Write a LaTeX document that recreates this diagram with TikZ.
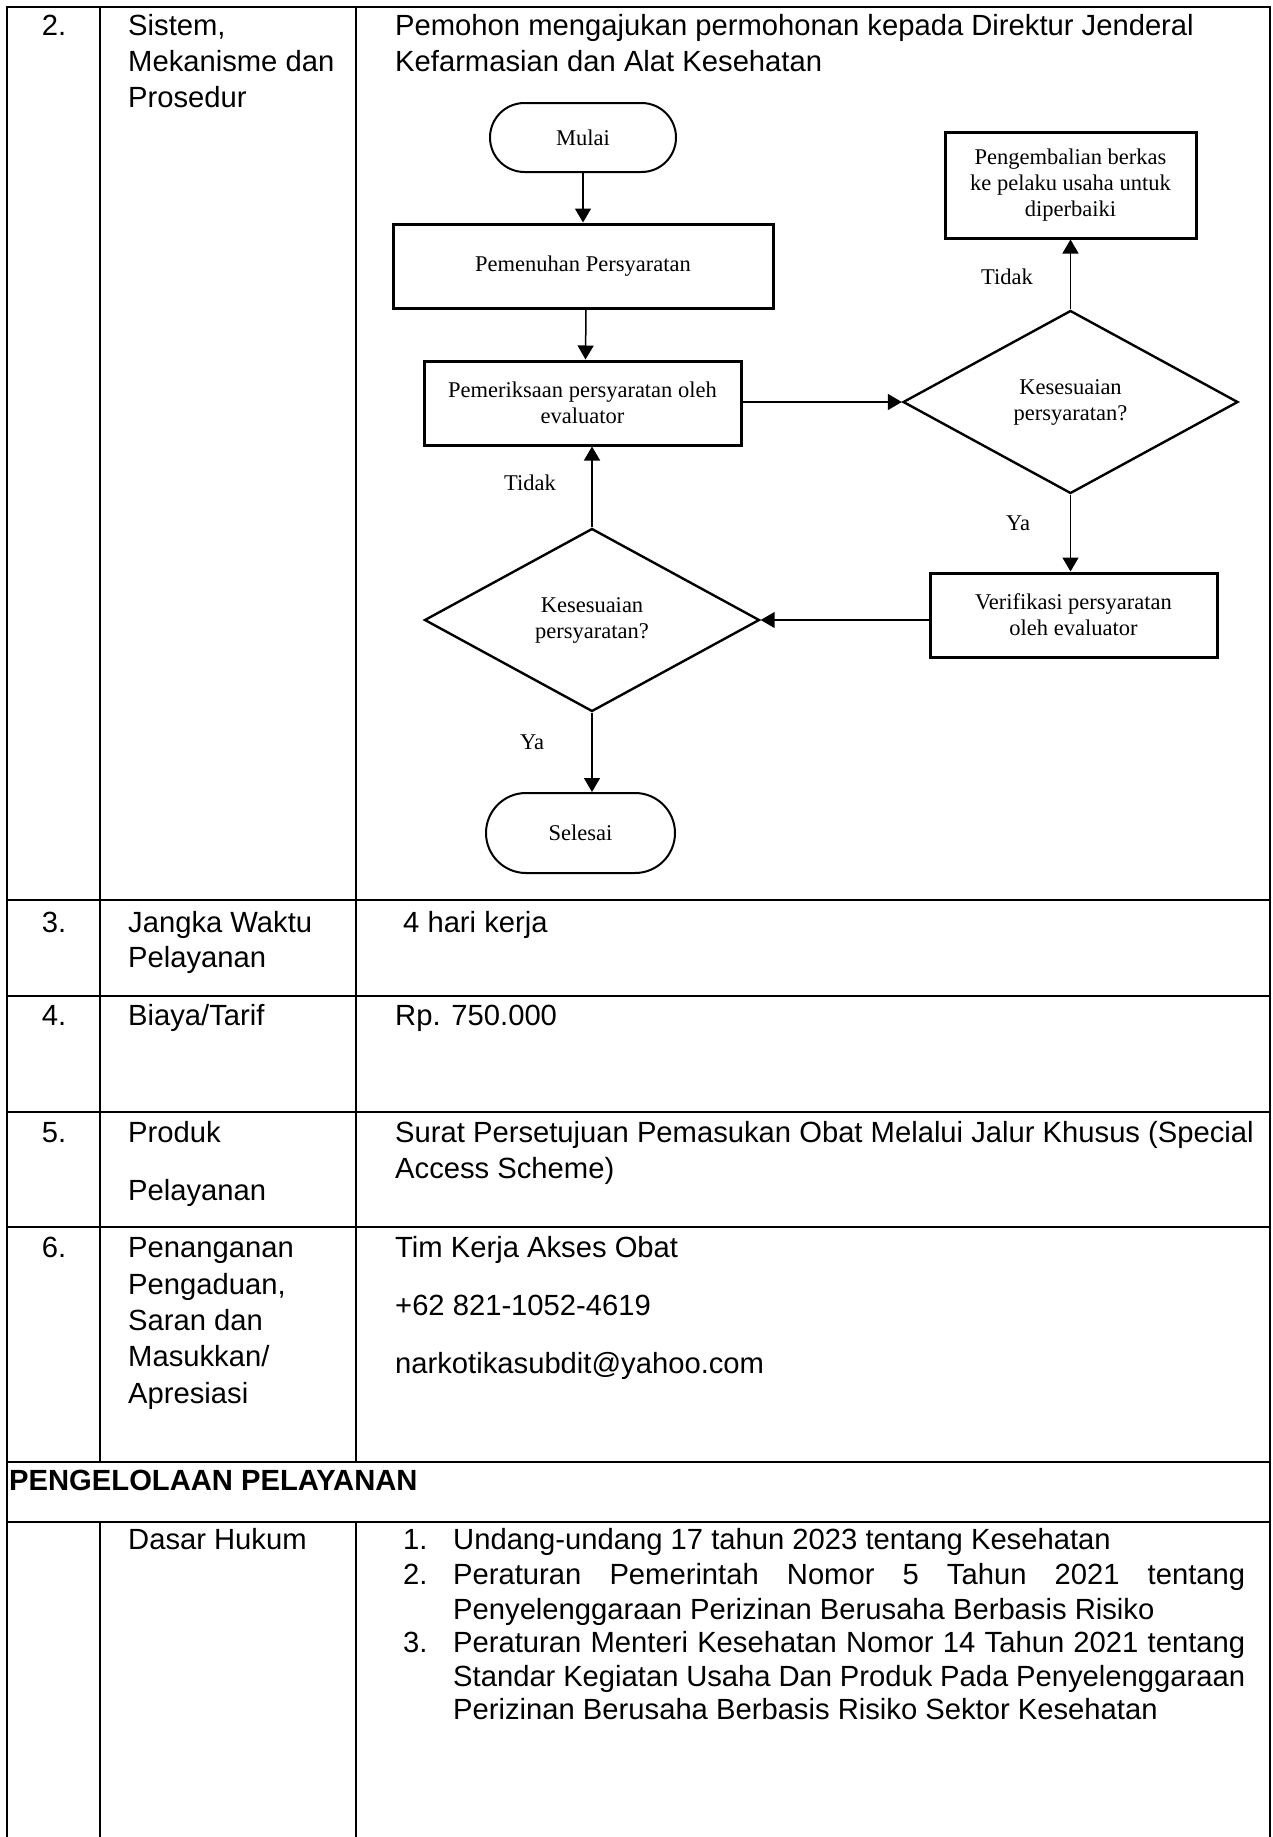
\documentclass[tikz,border=0pt]{standalone}
\usepackage{fontspec}
\setmainfont{Liberation Sans}
\newfontfamily\flowserif{Liberation Serif}
\usetikzlibrary{arrows.meta,shapes.geometric}

\newcommand\tabfont{\fontsize{29.2}{35.5}\selectfont}
\newcommand\chartfont{\flowserif\fontsize{22.5}{26}\selectfont}

\tikzset{
  rule/.style={line width=2.2pt, line cap=rect},
  cell/.style={anchor=base west, inner sep=0pt, font=\tabfont},
  num/.style={anchor=base, inner sep=0pt, font=\tabfont},
  procbox/.style={draw, line width=3pt, rectangle, inner sep=0pt, align=center, font=\chartfont},
  termbox/.style={draw, line width=2pt, rectangle, inner sep=0pt, font=\chartfont},
  decision/.style={draw, line width=2.4pt, diamond, inner sep=0pt, align=center, font=\chartfont,
                   minimum width=335pt, minimum height=183pt},
  flow/.style={line width=1.5pt, -{Triangle[length=14pt,width=16pt]}},
  branch/.style={inner sep=0pt, font=\chartfont},
}

\begin{document}
\begin{tikzpicture}[x=1pt,y=-1pt]
\useasboundingbox (0,0) rectangle (1272,1837);

% ---- table rules ----
\draw[rule] (7,7) -- (1270,7);
\draw[rule] (7,7) -- (7,1837);
\draw[rule] (1270,7) -- (1270,1837);
\draw[rule] (100,7) -- (100,1462);
\draw[rule] (356,7) -- (356,1462);
\draw[rule] (100,1522) -- (100,1837);
\draw[rule] (356,1522) -- (356,1837);
\foreach \y in {900,996,1112,1227,1462,1522} \draw[rule] (7,\y) -- (1270,\y);

% ---- row 2 ----
\node[num]  (n2)   at (54,35)   {2.};
\node[cell] (s2a)  at (128,35)  {Sistem,};
\node[cell] (s2b)  at (128,71)  {Mekanisme dan};
\node[cell] (s2c)  at (128,107) {Prosedur};
\node[cell] (d2a)  at (395,35)  {Pemohon mengajukan permohonan kepada Direktur Jenderal};
\node[cell] (d2b)  at (395,71)  {Kefarmasian dan Alat Kesehatan};

% ---- row 3 ----
\node[num]  (n3)   at (54,932)  {3.};
\node[cell] (s3a)  at (128,932) {Jangka Waktu};
\node[cell] (s3b)  at (128,967) {Pelayanan};
\node[cell] (d3)   at (403,932) {4 hari kerja};

% ---- row 4 ----
\node[num]  (n4)   at (54,1025)  {4.};
\node[cell] (s4)   at (128,1025) {Biaya/Tarif};
\node[cell] (d4)   at (395,1025) {Rp. 750.000};

% ---- row 5 ----
\node[num]  (n5)   at (54,1142)  {5.};
\node[cell] (s5a)  at (128,1142) {Produk};
\node[cell] (s5b)  at (128,1200) {Pelayanan};
\node[cell] (d5a)  at (395,1142) {Surat Persetujuan Pemasukan Obat Melalui Jalur Khusus (Special};
\node[cell] (d5b)  at (395,1178) {Access Scheme)};

% ---- row 6 ----
\node[num]  (n6)   at (54,1257)  {6.};
\node[cell] (s6a)  at (128,1257) {Penanganan};
\node[cell] (s6b)  at (128,1294) {Pengaduan,};
\node[cell] (s6c)  at (128,1330) {Saran dan};
\node[cell] (s6d)  at (128,1366) {Masukkan/};
\node[cell] (s6e)  at (128,1403) {Apresiasi};
\node[cell] (d6a)  at (395,1257) {Tim Kerja Akses Obat};
\node[cell] (d6b)  at (395,1315) {+62 821-1052-4619};
\node[cell] (d6c)  at (395,1373) {narkotikasubdit@yahoo.com};

% ---- section heading ----
\node[cell, font=\tabfont\bfseries] (sect) at (9,1490) {PENGELOLAAN PELAYANAN};

% ---- legal basis ----
\node[cell] (sdh)  at (128,1549) {Dasar Hukum};
\node[cell] (l1n)  at (403,1549) {1.};
\node[cell] (l2n)  at (403,1584) {2.};
\node[cell] (l3n)  at (403,1652) {3.};
\node[cell] (l1a)  at (453,1549) {Undang-undang 17 tahun 2023 tentang Kesehatan};
\node[cell] (l2a)  at (453,1584) {\makebox[792pt][s]{Peraturan Pemerintah Nomor 5 Tahun 2021 tentang}};
\node[cell] (l2b)  at (453,1619) {Penyelenggaraan Perizinan Berusaha Berbasis Risiko};
\node[cell] (l3a)  at (453,1652) {\makebox[792pt][s]{Peraturan Menteri Kesehatan Nomor 14 Tahun 2021 tentang}};
\node[cell] (l3b)  at (453,1686) {\makebox[792pt][s]{Standar Kegiatan Usaha Dan Produk Pada Penyelenggaraan}};
\node[cell] (l3c)  at (453,1719) {Perizinan Berusaha Berbasis Risiko Sektor Kesehatan};

% ---- flowchart ----
\node[termbox, rounded corners=34.5pt, minimum width=186pt, minimum height=69pt] (mulai) at (583,137.5) {Mulai};
\node[procbox, minimum width=380pt, minimum height=84pt] (penuhi) at (583,266) {Pemenuhan Persyaratan};
\node[procbox, minimum width=317pt, minimum height=84pt] (periksa) at (582.5,403) {Pemeriksaan persyaratan oleh\\evaluator};
\node[decision] (cek1) at (1070.5,402) {Kesesuaian\\persyaratan?};
\node[procbox, minimum width=251pt, minimum height=106pt] (kembali) at (1070.5,185) {Pengembalian berkas\\ke pelaku usaha untuk\\diperbaiki};
\node[procbox, minimum width=287pt, minimum height=84pt] (verif) at (1073.5,615) {Verifikasi persyaratan\\oleh evaluator};
\node[decision] (cek2) at (592,620) {Kesesuaian\\persyaratan?};
\node[termbox, rounded corners=40pt, minimum width=189pt, minimum height=80pt] (selesai) at (580.5,833) {Selesai};

\draw[flow] (mulai) -- (penuhi);
\draw[flow] ([xshift=3pt]penuhi.south) -- ([xshift=3pt]periksa.north);
\draw[flow] (periksa.east |- cek1.west) -- (cek1.west);
\draw[flow] (cek1.north) -- (kembali.south);
\draw[flow] (cek1.south) -- (cek1.south |- verif.north);
\draw[flow] (verif.west |- cek2.east) -- (cek2.east);
\draw[flow] (cek2.north) -- (cek2.north |- periksa.south);
\draw[flow] (cek2.south) -- (cek2.south |- selesai.north);

\node[branch] (t1) at (1007,277) {Tidak};
\node[branch] (y1) at (1018,523) {Ya};
\node[branch] (t2) at (530,483) {Tidak};
\node[branch] (y2) at (532,742) {Ya};
\end{tikzpicture}
\end{document}
